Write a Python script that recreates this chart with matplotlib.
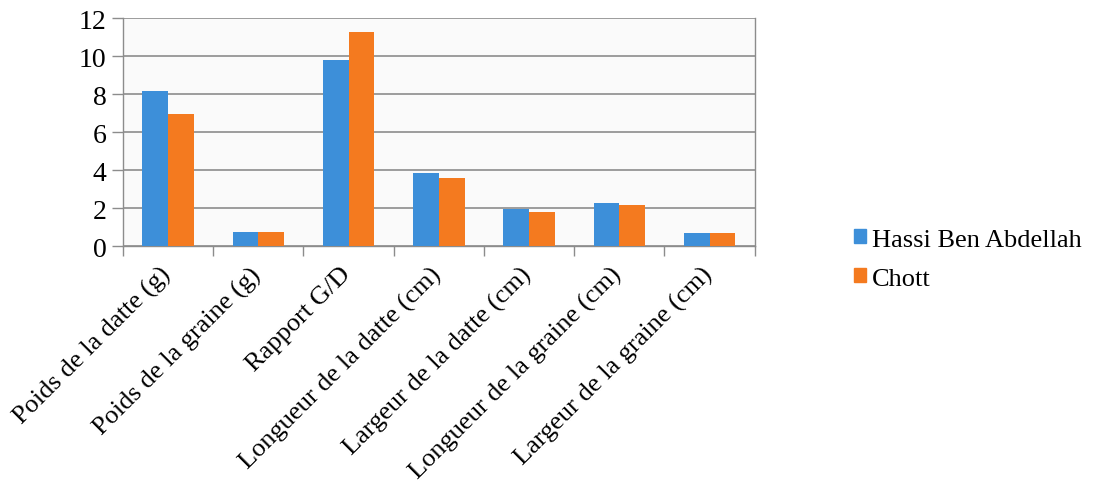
import matplotlib
matplotlib.use("Agg")
import matplotlib.pyplot as plt
import numpy as np
from matplotlib.patches import Patch

categories = ["Poids de la datte (g)", "Poids de la graine (g)", "Rapport G/D",
              "Longueur de la datte (cm)", "Largeur de la datte (cm)",
              "Longueur de la graine (cm)", "Largeur de la graine (cm)"]
hassi = [8.2, 0.77, 9.8, 3.88, 1.95, 2.27, 0.7]
chott = [6.98, 0.77, 11.3, 3.6, 1.8, 2.18, 0.7]
series_names = ["Hassi Ben Abdellah", "Chott"]
yticks = [0, 2, 4, 6, 8, 10, 12]

blue = "#3d8fd9"
orange = "#f47a1f"

plt.rcParams['font.family'] = ['Liberation Serif', 'DejaVu Serif']

fig = plt.figure(figsize=(10.93, 4.89), dpi=100)
ax = fig.add_axes([0.1125, 0.494, 0.578, 0.4665])
ax.set_facecolor("#fafafa")

x = np.arange(len(categories))
w = 0.285
ax.bar(x - w/2, hassi, w, color=blue, zorder=3)
ax.bar(x + w/2, chott, w, color=orange, zorder=3)

ax.set_xlim(-0.5, len(categories) - 0.5)
ax.set_ylim(0, 12)
ax.set_yticks(yticks)
ax.set_yticklabels([str(v) for v in yticks], fontsize=20)
ax.yaxis.grid(True, color="#8c8c8c", linewidth=1.2, zorder=0)
ax.tick_params(axis='y', length=8, width=1.0, color="#8c8c8c", pad=4)

ax.set_xticks(np.arange(-0.5, len(categories) + 0.5, 1.0))
ax.set_xticklabels([])
ax.tick_params(axis='x', length=7, width=1.0, color="#8c8c8c")
for i, c in enumerate(categories):
    ax.text(i - 0.1, -0.85, c, rotation=45, ha='right', va='top',
            rotation_mode='anchor', fontsize=19, transform=ax.transData)

for side in ['top']:
    ax.spines[side].set_visible(False)
for side in ['left', 'bottom', 'right']:
    ax.spines[side].set_color("#8c8c8c")
    ax.spines[side].set_linewidth(1.0)

handles = [Patch(color=blue), Patch(color=orange)]
fig.legend(handles, series_names, loc='center left', bbox_to_anchor=(0.781, 0.468),
           frameon=False, fontsize=19, handlelength=0.45, handleheight=0.45,
           handletextpad=0.25, labelspacing=0.65, borderaxespad=0, borderpad=0)

fig.savefig("out.png", dpi=100)
